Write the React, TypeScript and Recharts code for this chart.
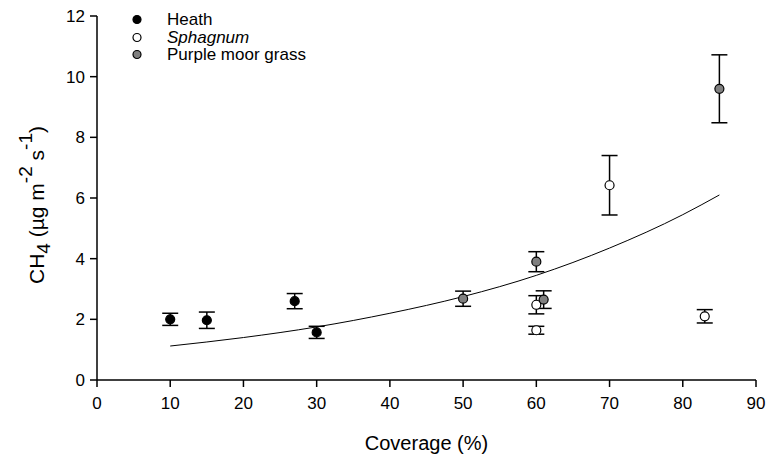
import { ScatterChart, Scatter, XAxis, YAxis, ErrorBar } from 'recharts';

const heathX = [10, 15, 27, 30];
const heathY = [2.0, 1.97, 2.6, 1.57];
const heathErr = [0.2, 0.27, 0.25, 0.2];

const sphagnumX = [60, 60, 70, 83];
const sphagnumY = [2.48, 1.64, 6.42, 2.1];
const sphagnumErr = [0.3, 0.13, 0.98, 0.22];

const grassX = [50, 60, 61, 85];
const grassY = [2.68, 3.9, 2.65, 9.6];
const grassErr = [0.25, 0.33, 0.29, 1.12];

// fitted curve
const fitX = [10, 20, 30, 40, 50, 60, 70, 80, 85];
const fitY = [1.12, 1.4, 1.75, 2.2, 2.75, 3.45, 4.35, 5.45, 6.1];

const xTicks = [0, 10, 20, 30, 40, 50, 60, 70, 80, 90];
const yTicks = [0, 2, 4, 6, 8, 10, 12];

const zip = (xs: number[], ys: number[], es?: number[]) =>
  xs.map((x, i) => ({ x, y: ys[i], err: es ? es[i] : 0 }));

const heath = zip(heathX, heathY, heathErr);
const sphagnum = zip(sphagnumX, sphagnumY, sphagnumErr);
const grass = zip(grassX, grassY, grassErr);
const fit = zip(fitX, fitY);

const font = '"Liberation Sans", Arial, sans-serif';

const series = [
  { name: 'Heath', fill: '#000000', italic: false },
  { name: 'Sphagnum', fill: '#ffffff', italic: true },
  { name: 'Purple moor grass', fill: '#808080', italic: false },
];

const dot = (fill: string) => (props: any) => (
  <circle cx={props.cx} cy={props.cy} r={4.5} fill={fill} stroke="#000" strokeWidth={1.2} />
);

const LegendBox = () => (
  <div
    style={{
      position: 'absolute',
      left: 130,
      top: 11,
      fontFamily: font,
      fontSize: 17,
      color: '#000',
      lineHeight: '17.5px',
    }}
  >
    {series.map((s) => (
      <div key={s.name} style={{ display: 'flex', alignItems: 'center' }}>
        <svg width={37} height={17.5}>
          <circle cx={7} cy={8.5} r={4} fill={s.fill} stroke="#000" strokeWidth={1.2} />
        </svg>
        <span style={{ fontStyle: s.italic ? 'italic' : 'normal' }}>{s.name}</span>
      </div>
    ))}
  </div>
);

const YLabel = () => (
  <text
    x={0}
    y={0}
    transform="translate(44,205) rotate(-90)"
    textAnchor="middle"
    fontFamily={font}
    fontSize={21}
    fill="#000"
  >
    <tspan>CH</tspan>
    <tspan dy={6} fontSize={19}>4</tspan>
    <tspan dy={-6}> (µg m</tspan>
    <tspan dy={-12} fontSize={19}>-2</tspan>
    <tspan dy={12}> s</tspan>
    <tspan dy={-12} fontSize={19}>-1</tspan>
    <tspan dy={12}>)</tspan>
  </text>
);

export default function App() {
  return (
    <div style={{ position: 'absolute', left: 0, top: 0, width: 767, height: 455, background: '#fff' }}>
      <ScatterChart width={767} height={455} margin={{ top: 16, right: 11, left: 37, bottom: 0 }}>
        <XAxis
          type="number"
          dataKey="x"
          domain={[0, 90]}
          ticks={xTicks}
          interval={0}
          height={75}
          stroke="#000"
          strokeWidth={1.5}
          tickSize={7}
          tickMargin={10}
          tick={{ fill: '#000', fontSize: 17, fontFamily: font }}
          label={{ value: 'Coverage (%)', position: 'insideBottom', offset: 5, fill: '#000', fontSize: 20, fontFamily: font }}
        />
        <YAxis
          type="number"
          dataKey="y"
          domain={[0, 12]}
          ticks={yTicks}
          interval={0}
          width={60}
          stroke="#000"
          strokeWidth={1.5}
          tickSize={7}
          tickMargin={5}
          tick={{ fill: '#000', fontSize: 17, fontFamily: font }}
          label={{ content: () => <YLabel /> }}
        />
        <Scatter
          data={fit}
          line={{ stroke: '#000', strokeWidth: 1 }}
          lineJointType="monotoneX"
          shape={() => <g />}
          isAnimationActive={false}
        />
        <Scatter data={heath} shape={dot('#000000')} isAnimationActive={false}>
          <ErrorBar dataKey="err" direction="y" width={8} stroke="#000" strokeWidth={1.5} />
        </Scatter>
        <Scatter data={sphagnum} shape={dot('#ffffff')} isAnimationActive={false}>
          <ErrorBar dataKey="err" direction="y" width={8} stroke="#000" strokeWidth={1.5} />
        </Scatter>
        <Scatter data={grass} shape={dot('#808080')} isAnimationActive={false}>
          <ErrorBar dataKey="err" direction="y" width={8} stroke="#000" strokeWidth={1.5} />
        </Scatter>
      </ScatterChart>
      <LegendBox />
    </div>
  );
}
